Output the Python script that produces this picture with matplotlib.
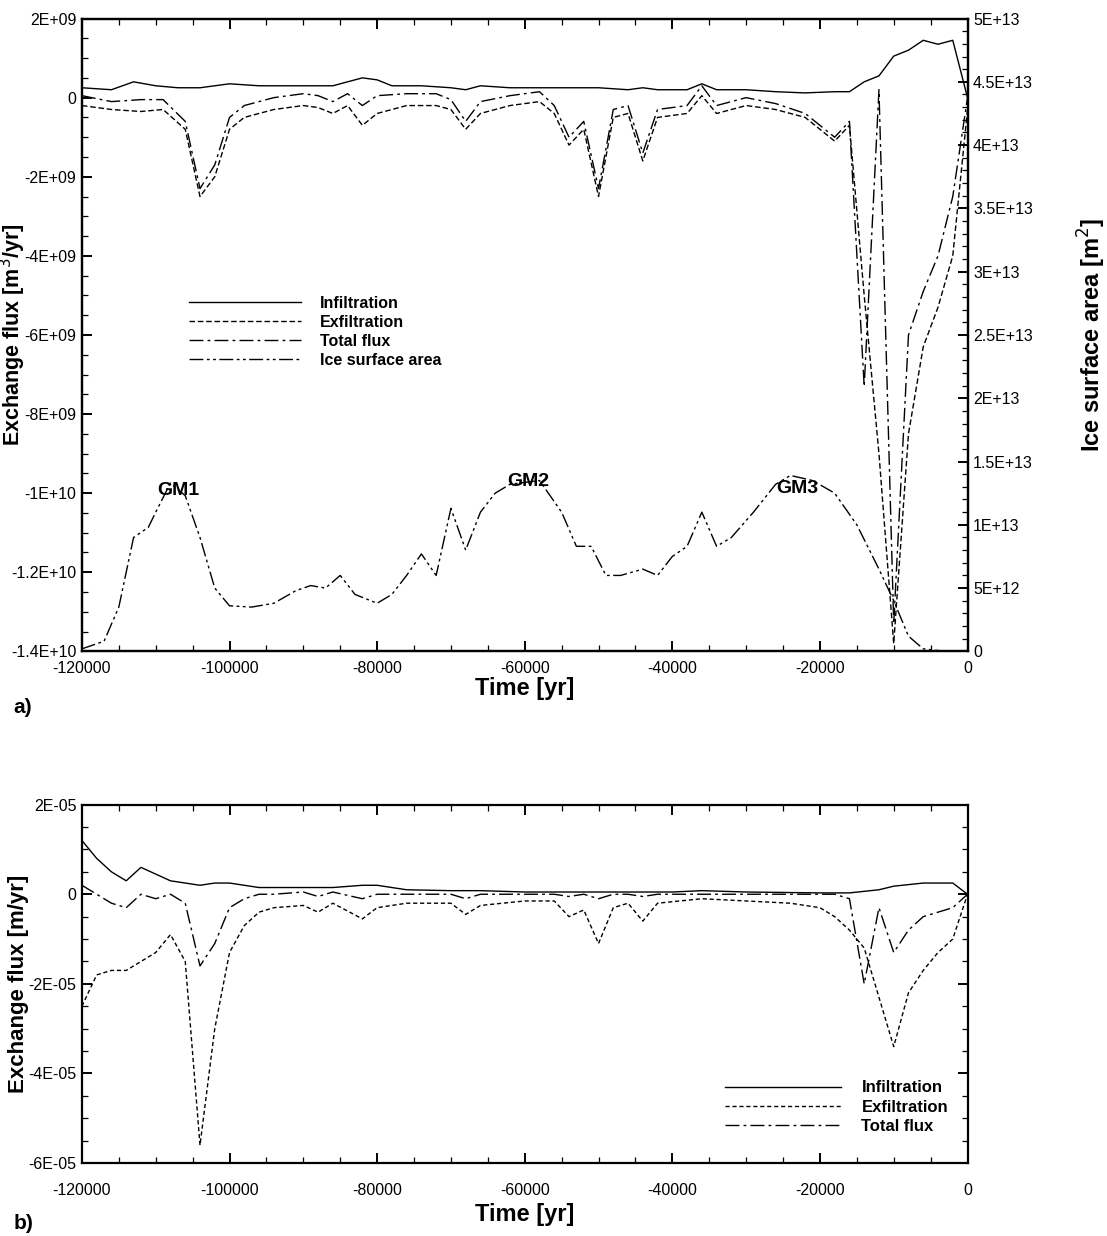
import matplotlib
matplotlib.use("Agg")
import matplotlib.pyplot as plt
from matplotlib.ticker import MultipleLocator

plt.rcParams['font.family'] = ['Liberation Sans', 'DejaVu Sans']

# ---------- panel a data ----------
t_inf_a = [-120000,-116000,-113000,-110000,-107000,-104000,-100000,-96000,-92000,-88000,-86000,-82000,-80000,-78000,-74000,-70000,-68000,-66000,-62000,-58000,-54000,-50000,-46000,-44000,-42000,-38000,-36000,-34000,-30000,-26000,-22000,-18000,-16000,-14000,-12000,-10000,-8000,-6000,-4000,-2000,0]
inf_a = [0.25,0.2,0.4,0.3,0.25,0.25,0.35,0.3,0.3,0.3,0.3,0.5,0.45,0.3,0.3,0.25,0.2,0.3,0.25,0.25,0.25,0.25,0.2,0.25,0.2,0.2,0.35,0.2,0.2,0.15,0.12,0.15,0.15,0.4,0.55,1.05,1.2,1.45,1.35,1.45,0.0]

t_ex_a = [-120000,-116000,-112000,-109000,-106000,-104000,-102000,-100000,-98000,-94000,-90000,-88000,-86000,-84000,-82000,-80000,-76000,-72000,-70000,-68000,-66000,-62000,-58000,-56000,-54000,-52000,-50000,-48000,-46000,-44000,-42000,-38000,-36000,-34000,-30000,-26000,-22000,-18000,-16000,-14000,-12000,-10000,-8000,-6000,-4000,-2000,0]
ex_a = [-0.2,-0.3,-0.35,-0.3,-0.8,-2.5,-2.0,-0.8,-0.5,-0.3,-0.2,-0.25,-0.4,-0.2,-0.7,-0.4,-0.2,-0.2,-0.3,-0.8,-0.4,-0.2,-0.1,-0.4,-1.2,-0.8,-2.5,-0.5,-0.4,-1.6,-0.5,-0.4,0.05,-0.4,-0.2,-0.3,-0.5,-1.1,-0.7,-5.0,-9.0,-13.8,-8.5,-6.3,-5.3,-4.0,-0.3]
tot_a = [0.05,-0.1,-0.05,-0.05,-0.6,-2.3,-1.7,-0.5,-0.2,0.0,0.1,0.05,-0.1,0.1,-0.2,0.05,0.1,0.1,-0.05,-0.6,-0.1,0.05,0.15,-0.2,-1.0,-0.6,-2.3,-0.3,-0.2,-1.4,-0.3,-0.2,0.3,-0.2,0.0,-0.15,-0.4,-1.0,-0.6,-7.3,0.2,-13.3,-6.0,-4.9,-4.0,-2.5,0.0]

t_ice = [-120000,-117000,-115000,-113000,-111000,-110000,-108000,-106000,-104000,-102000,-100000,-97000,-94000,-91000,-89000,-87000,-85000,-83000,-80000,-78000,-76000,-74000,-72000,-70000,-68000,-66000,-64000,-62000,-58000,-55000,-53000,-51000,-49000,-47000,-44000,-42000,-40000,-38000,-36000,-34000,-32000,-29000,-26000,-24000,-21000,-18000,-15000,-12000,-10000,-8000,-6000,-3000,0]
ice = [0.2,0.8,3.5,9.0,9.8,11.0,13.3,12.3,9.0,5.0,3.6,3.5,3.8,4.8,5.2,5.0,6.0,4.5,3.8,4.5,6.0,7.7,6.0,11.3,8.0,11.0,12.5,13.2,13.5,11.0,8.3,8.3,6.0,6.0,6.5,6.0,7.5,8.3,11.0,8.3,9.0,11.0,13.2,13.9,13.5,12.5,10.0,6.5,4.0,1.2,0.2,0.0,0.0]

# ---------- panel b data ----------
t_inf_b = [-120000,-118000,-116000,-114000,-112000,-110000,-108000,-104000,-102000,-100000,-96000,-90000,-86000,-82000,-80000,-76000,-70000,-66000,-60000,-50000,-40000,-36000,-30000,-20000,-16000,-12000,-10000,-6000,-2000,0]
inf_b = [1.2,0.8,0.5,0.3,0.6,0.45,0.3,0.2,0.25,0.25,0.15,0.15,0.15,0.2,0.2,0.1,0.08,0.08,0.05,0.05,0.05,0.08,0.05,0.03,0.03,0.1,0.18,0.25,0.25,0.0]

t_b = [-120000,-118000,-116000,-114000,-112000,-110000,-108000,-106000,-104000,-102000,-100000,-98000,-96000,-94000,-90000,-88000,-86000,-82000,-80000,-76000,-70000,-68000,-66000,-60000,-56000,-54000,-52000,-50000,-48000,-46000,-44000,-42000,-36000,-30000,-24000,-20000,-18000,-16000,-14000,-12000,-10000,-8000,-6000,-4000,-2000,0]
ex_b = [-2.5,-1.8,-1.7,-1.7,-1.5,-1.3,-0.9,-1.5,-5.6,-3.0,-1.3,-0.7,-0.4,-0.3,-0.25,-0.4,-0.2,-0.55,-0.3,-0.2,-0.2,-0.45,-0.25,-0.15,-0.15,-0.5,-0.35,-1.1,-0.3,-0.2,-0.6,-0.2,-0.1,-0.15,-0.2,-0.3,-0.5,-0.8,-1.2,-2.3,-3.4,-2.2,-1.7,-1.3,-1.0,0.0]
tot_b = [0.2,0.0,-0.2,-0.3,0.0,-0.1,0.0,-0.2,-1.6,-1.1,-0.3,-0.1,0.0,0.0,0.05,-0.05,0.05,-0.1,0.0,0.0,0.0,-0.1,0.0,0.0,0.0,-0.05,0.0,-0.1,0.0,0.0,-0.05,0.0,0.0,0.0,0.0,0.0,0.0,-0.1,-2.0,-0.3,-1.3,-0.8,-0.5,-0.4,-0.3,0.0]

DASH = (0, (4, 2))
DASHDOT = (0, (10, 3, 2, 3))
DDD = (0, (10, 2.5, 2, 2.5, 2, 2.5))
lw = 1.0
TS = 11.5
LS = 17

def style(ax, sides):
    for s in ax.spines.values():
        s.set_linewidth(1.6)
    ax.tick_params(which='major', direction='in', labelsize=TS, length=7, width=1.4, pad=4, **sides)
    ax.tick_params(which='minor', direction='in', length=4, width=0.9, **sides)

fig = plt.figure(figsize=(11.07, 12.36), dpi=100)
axa = fig.add_axes([0.074, 0.473, 0.800, 0.512])
axr = axa.twinx()

la, = axa.plot(t_inf_a, [v*1e9 for v in inf_a], color='black', lw=lw, ls='-')
lb, = axa.plot(t_ex_a, [v*1e9 for v in ex_a], color='black', lw=lw, ls=DASH)
lc, = axa.plot(t_ex_a, [v*1e9 for v in tot_a], color='black', lw=lw, ls=DASHDOT)
ld, = axr.plot(t_ice, [v*1e12 for v in ice], color='black', lw=lw, ls=DDD)

axa.set_xlim(-120000, 0)
axa.set_ylim(-1.4e10, 2e9)
axr.set_ylim(0, 5e13)
yt = [-1.4e10,-1.2e10,-1e10,-8e9,-6e9,-4e9,-2e9,0,2e9]
ylab = ['-1.4E+10','-1.2E+10','-1E+10','-8E+09','-6E+09','-4E+09','-2E+09','0','2E+09']
axa.set_yticks(yt); axa.set_yticklabels(ylab)
rt = [0,5e12,1e13,1.5e13,2e13,2.5e13,3e13,3.5e13,4e13,4.5e13,5e13]
rlab = ['0','5E+12','1E+13','1.5E+13','2E+13','2.5E+13','3E+13','3.5E+13','4E+13','4.5E+13','5E+13']
axr.set_yticks(rt); axr.set_yticklabels(rlab)
xt = [-120000,-100000,-80000,-60000,-40000,-20000,0]
axa.set_xticks(xt); axa.set_xticklabels([str(v) for v in xt])
axa.xaxis.set_minor_locator(MultipleLocator(5000))
axa.yaxis.set_minor_locator(MultipleLocator(5e8))
axr.yaxis.set_minor_locator(MultipleLocator(1e12))
style(axa, dict(top=True))
style(axr, dict())
axa.tick_params(axis='x', pad=7)
axa.set_xlabel('Time [yr]', fontsize=LS, fontweight='bold', labelpad=1)
axa.set_ylabel('Exchange flux [m$^3$/yr]', fontsize=15.5, fontweight='bold')
axa.yaxis.set_label_coords(-0.061, 0.5)
axr.set_ylabel('Ice surface area [m$^2$]', fontsize=LS, fontweight='bold')
axr.yaxis.set_label_coords(1.122, 0.5)
axa.legend([la, lb, lc, ld], ['Infiltration', 'Exfiltration', 'Total flux', 'Ice surface area'],
           loc='upper left', bbox_to_anchor=(0.105, 0.585), frameon=False,
           handlelength=7.0, handletextpad=1.2,
           prop={'weight': 'bold', 'size': 11.5}, labelspacing=0.25)
for txt, x, y in [('GM1', -107000, -9.93e9), ('GM2', -59500, -9.7e9), ('GM3', -23000, -9.88e9)]:
    axa.text(x, y, txt, fontsize=14, fontweight='bold', ha='center', va='center')
fig.text(0.012, 0.423, 'a)', fontsize=15, fontweight='bold')

# panel b
axb = fig.add_axes([0.074, 0.059, 0.800, 0.290])
l1, = axb.plot(t_inf_b, [v*1e-5 for v in inf_b], color='black', lw=lw, ls='-')
l2, = axb.plot(t_b, [v*1e-5 for v in ex_b], color='black', lw=lw, ls=(0, (3, 2)))
l3, = axb.plot(t_b, [v*1e-5 for v in tot_b], color='black', lw=lw, ls=DASHDOT)
axb.set_xlim(-120000, 0)
axb.set_ylim(-6e-5, 2e-5)
axb.set_yticks([-6e-5,-4e-5,-2e-5,0,2e-5]); axb.set_yticklabels(['-6E-05','-4E-05','-2E-05','0','2E-05'])
axb.set_xticks(xt); axb.set_xticklabels([str(v) for v in xt])
axb.xaxis.set_minor_locator(MultipleLocator(5000))
axb.yaxis.set_minor_locator(MultipleLocator(5e-6))
style(axb, dict(top=True, right=True))
axb.tick_params(axis='x', pad=14)
axb.set_xlabel('Time [yr]', fontsize=LS, fontweight='bold', labelpad=4)
axb.set_ylabel('Exchange flux [m/yr]', fontsize=16, fontweight='bold')
axb.yaxis.set_label_coords(-0.060, 0.5)
axb.legend([l1, l2, l3], ['Infiltration', 'Exfiltration', 'Total flux'],
           loc='lower right', bbox_to_anchor=(0.995, 0.04), frameon=False,
           handlelength=7.0, handletextpad=1.2,
           prop={'weight': 'bold', 'size': 12}, labelspacing=0.25)
fig.text(0.012, 0.006, 'b)', fontsize=15, fontweight='bold')

fig.savefig('out.png', dpi=100)
